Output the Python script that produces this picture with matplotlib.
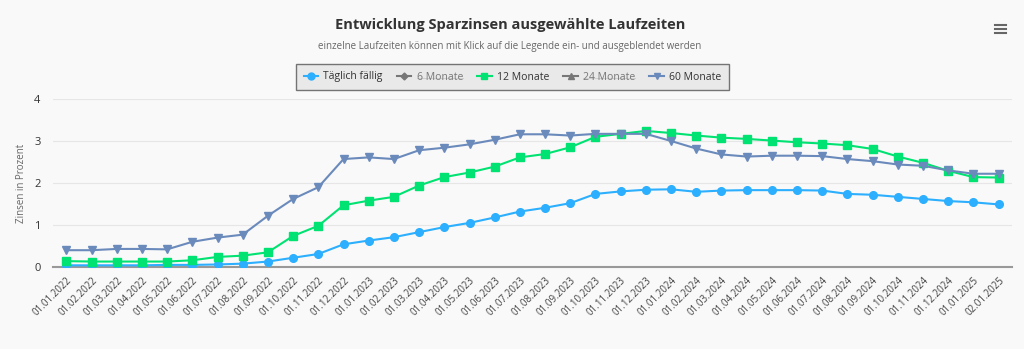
import matplotlib
matplotlib.use("Agg")
import matplotlib.pyplot as plt
from matplotlib.lines import Line2D

plt.rcParams['font.family'] = ['Open Sans', 'DejaVu Sans']

dates = ["01.01.2022", "01.02.2022", "01.03.2022", "01.04.2022", "01.05.2022", "01.06.2022",
         "01.07.2022", "01.08.2022", "01.09.2022", "01.10.2022", "01.11.2022", "01.12.2022",
         "01.01.2023", "01.02.2023", "01.03.2023", "01.04.2023", "01.05.2023", "01.06.2023",
         "01.07.2023", "01.08.2023", "01.09.2023", "01.10.2023", "01.11.2023", "01.12.2023",
         "01.01.2024", "01.02.2024", "01.03.2024", "01.04.2024", "01.05.2024", "01.06.2024",
         "01.07.2024", "01.08.2024", "01.09.2024", "01.10.2024", "01.11.2024", "01.12.2024",
         "01.01.2025", "02.01.2025"]

taeglich = [0.04, 0.04, 0.04, 0.04, 0.05, 0.05, 0.06, 0.08, 0.13, 0.22, 0.31, 0.54,
            0.63, 0.71, 0.83, 0.95, 1.05, 1.18, 1.32, 1.41, 1.52, 1.74, 1.80, 1.84,
            1.85, 1.79, 1.82, 1.83, 1.83, 1.83, 1.82, 1.74, 1.72, 1.67, 1.62, 1.57, 1.54, 1.49]

zwoelf_monate = [0.14, 0.13, 0.13, 0.13, 0.13, 0.16, 0.24, 0.27, 0.35, 0.74, 0.98, 1.47,
                 1.58, 1.67, 1.94, 2.14, 2.25, 2.39, 2.61, 2.69, 2.85, 3.10, 3.17, 3.24,
                 3.19, 3.13, 3.08, 3.05, 3.01, 2.97, 2.94, 2.90, 2.81, 2.63, 2.48, 2.29, 2.14, 2.13]

sechzig_monate = [0.40, 0.40, 0.43, 0.43, 0.42, 0.60, 0.70, 0.77, 1.22, 1.62, 1.90, 2.57,
                  2.61, 2.57, 2.78, 2.84, 2.92, 3.03, 3.16, 3.16, 3.13, 3.17, 3.17, 3.17,
                  3.00, 2.82, 2.68, 2.63, 2.65, 2.65, 2.64, 2.57, 2.52, 2.44, 2.41, 2.30, 2.22, 2.22]

series_names = ["Täglich fällig", "6 Monate", "12 Monate", "24 Monate", "60 Monate"]
yticks = [0, 1, 2, 3, 4]

BG = '#f9f9f9'
fig = plt.figure(figsize=(10.24, 3.49), dpi=100, facecolor=BG)
W, H = 1024, 349
ax = fig.add_axes([53 / W, 1 - 267 / H, (1012 - 53) / W, (267 - 99) / H])
ax.set_facecolor(BG)

x = list(range(len(dates)))
ax.plot(x, taeglich, color='#2caffe', lw=1.5, marker='o', ms=5.5, zorder=3)
ax.plot(x, zwoelf_monate, color='#00e272', lw=1.5, marker='s', ms=5.5, zorder=3)
ax.plot(x, sechzig_monate, color='#6b8abc', lw=1.5, marker='v', ms=6, zorder=3)

ax.set_xlim(-0.53, len(dates) - 1 + 0.53)
ax.set_ylim(0, 4)
ax.set_yticks(yticks)
ax.set_yticklabels([str(v) for v in yticks], fontsize=8, color='#333333')
ax.grid(axis='y', color='#e6e6e6', lw=0.8)
ax.set_axisbelow(True)
ax.set_xticks(x)
ax.set_xticklabels(dates, rotation=45, ha='right', rotation_mode='anchor',
                   fontsize=7, color='#444444')
ax.tick_params(axis='x', length=0, pad=6)
ax.tick_params(axis='y', length=0, pad=9)
for s in ['top', 'right', 'left']:
    ax.spines[s].set_visible(False)
ax.spines['bottom'].set_color('#999999')
ax.spines['bottom'].set_linewidth(1.5)
ax.set_ylabel("Zinsen in Prozent", fontsize=7, color='#666666', labelpad=5)

fig.text(510 / W, 1 - 25 / H, "Entwicklung Sparzinsen ausgewählte Laufzeiten",
         ha='center', va='center', fontsize=10.5, fontweight='bold', color='#333333')
fig.text(510 / W, 1 - 46 / H, "einzelne Laufzeiten können mit Klick auf die Legende ein- und ausgeblendet werden",
         ha='center', va='center', fontsize=7, color='#666666')

# menu icon
for yy in [24.5, 28.5, 32.5]:
    fig.add_artist(Line2D([995 / W, 1006 / W], [1 - yy / H, 1 - yy / H],
                          color='#666666', lw=1.5, transform=fig.transFigure))

handles = [
    Line2D([], [], color='#2caffe', lw=1.5, marker='o', ms=5),
    Line2D([], [], color='#777777', lw=1.5, marker='D', ms=3.5),
    Line2D([], [], color='#00e272', lw=1.5, marker='s', ms=5),
    Line2D([], [], color='#777777', lw=1.5, marker='^', ms=4.5),
    Line2D([], [], color='#6b8abc', lw=1.5, marker='v', ms=5),
]
leg = fig.legend(handles, series_names, loc='center', bbox_to_anchor=(512.5 / W, 1 - 77 / H),
                 ncol=5, fontsize=7.5, frameon=True, handlelength=1.4, handletextpad=0.5,
                 columnspacing=1.35, borderpad=0.75, borderaxespad=0, fancybox=False)
leg.get_frame().set_facecolor('#e6e6e6')
leg.get_frame().set_edgecolor('#555555')
leg.get_frame().set_linewidth(1.0)
texts = leg.get_texts()
for i in (1, 3):
    texts[i].set_color('#777777')
for i in (0, 2, 4):
    texts[i].set_color('#333333')

fig.canvas.draw()
renderer = fig.canvas.get_renderer()
for i in (1, 3):
    bb = texts[i].get_window_extent(renderer)
    ymid = (bb.y0 + bb.y1) / 2 - 0.5
    fig.add_artist(Line2D([bb.x0 / W, bb.x1 / W], [ymid / H, ymid / H],
                          color='#777777', lw=0.8, transform=fig.transFigure))

fig.savefig("out.png", dpi=100, facecolor=BG)
